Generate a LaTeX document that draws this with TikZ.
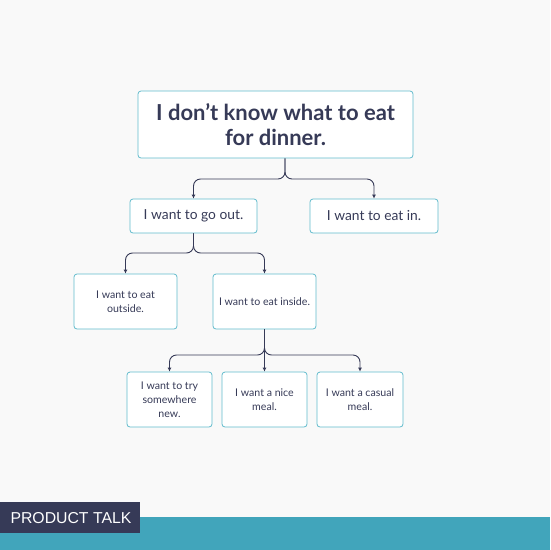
\documentclass[tikz,border=0pt]{standalone}
\usepackage{fontspec}
\setmainfont{Lato}
\setsansfont{Liberation Sans}
\usetikzlibrary{arrows.meta,positioning}
\definecolor{ink}{HTML}{363A57}
\definecolor{rim}{HTML}{62BBCC}
\definecolor{band}{HTML}{41A5BB}
\definecolor{paper}{HTML}{F9F9F9}

\begin{document}
\begin{tikzpicture}[x=1pt,y=-1pt,
  box/.style={draw=rim,fill=white,rounded corners=3pt,line width=0.8pt,text=ink,align=center,inner sep=0pt},
  big/.style={font=\fontsize{13.8}{16}\selectfont},
  small/.style={font=\fontsize{10.6}{13.8}\selectfont},
  link/.style={draw=ink,line width=0.9pt,rounded corners=7pt,-{Latex[length=4pt,width=4pt]}}]
\fill[paper] (0,0) rectangle (550,550);
\fill[band] (0,517) rectangle (550,550);
\fill[ink] (0,502) rectangle (140,533);
\node[text=white,font=\sffamily\fontsize{15.8}{18}\selectfont,anchor=west] (brand) at (7,518) {PRODUCT TALK};
\node[box,minimum width=275,minimum height=67,font=\bfseries\fontsize{22}{25}\selectfont] (dinner) at (275.5,124.5) {I don’t know what to eat\\for dinner.};
\node[box,big,minimum width=127,minimum height=34] (goout) at (193.5,216) {I want to go out.};
\node[box,big,minimum width=128,minimum height=34] (eatin) at (374,216) {I want to eat in.};
\node[box,small,minimum width=103,minimum height=55] (outside) at (125.5,301.5) {I want to eat\\outside.};
\node[box,small,minimum width=103,minimum height=55] (inside) at (264.5,301.5) {I want to eat inside.};
\node[box,small,minimum width=85,minimum height=55] (trynew) at (169.5,399.5) {I want to try\\somewhere\\new.};
\node[box,small,minimum width=85,minimum height=55] (nice) at (264.5,399.5) {I want a nice\\meal.};
\node[box,small,minimum width=86,minimum height=55] (casual) at (360,399.5) {I want a casual\\meal.};
\coordinate (j1) at (285,179);
\coordinate (j2) at (0,253);
\coordinate (j3) at (0,355);
\draw[link] (dinner.south -| j1) -- (j1) -- (j1 -| goout.north) -- (goout.north);
\draw[link] (dinner.south -| j1) -- (j1) -- (j1 -| eatin.north) -- (eatin.north);
\draw[link] (goout.south) -- (goout.south |- j2) -- (outside.north |- j2) -- (outside.north);
\draw[link] (goout.south) -- (goout.south |- j2) -- (inside.north |- j2) -- (inside.north);
\draw[link] (inside.south) -- (inside.south |- j3) -- (trynew.north |- j3) -- (trynew.north);
\draw[link] (inside.south) -- (nice.north);
\draw[link] (inside.south) -- (inside.south |- j3) -- (casual.north |- j3) -- (casual.north);
\end{tikzpicture}
\end{document}
